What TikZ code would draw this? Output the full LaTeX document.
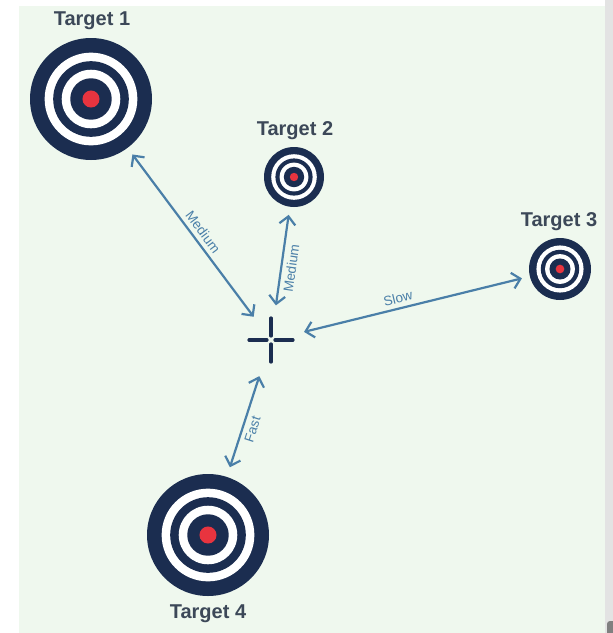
\documentclass[tikz,border=0pt]{standalone}
\usepackage{fontspec}
\setmainfont{Liberation Sans}
\usetikzlibrary{arrows.meta}
\definecolor{navy}{HTML}{1B2D50}
\definecolor{bullred}{HTML}{E8343F}
\definecolor{panel}{HTML}{EFF8EE}
\definecolor{linkblue}{HTML}{4A7FA8}
\definecolor{namegray}{HTML}{3C4858}
\tikzset{
  target/.style={circle, fill=navy, inner sep=0pt, minimum size=#1,
    path picture={
      \foreach \f/\c in {0.76/white,0.62/navy,0.48/white,0.34/navy,0.14/bullred}
        \fill[\c] (path picture bounding box.center) circle[radius=\f*#1/2];
    }},
  tname/.style={text=namegray, font=\fontsize{20}{23}\selectfont\bfseries},
  link/.style={draw=linkblue, line width=2.2pt,
    {Straight Barb[length=8pt,width=16pt]}-{Straight Barb[length=8pt,width=16pt]}},
  speed/.style={text=linkblue, font=\fontsize{13.5}{15}\selectfont, sloped, inner sep=4pt},
  hair/.style={draw=navy, line width=3.2pt, line cap=round},
}
\begin{document}
\begin{tikzpicture}[x=1pt, y=-1pt]
  \useasboundingbox (0,0) rectangle (613,633);
  \fill[white] (0,0) rectangle (613,633);
  \fill[panel] (19,6) rectangle (605,633);
  \fill[black!11] (605,0) rectangle (613,633);
  \fill[black!50, rounded corners=3pt] (607,621) -- (616,621) -- (616,636) -- (607,636) -- cycle;

  % targets
  \node[target=122pt] (t1) at (91,99) {};
  \node[target=60pt] (t2) at (294,177) {};
  \node[target=62pt] (t3) at (560,269) {};
  \node[target=122pt] (t4) at (208,535) {};

  \node[tname] (t1name) at (92,21) {Target 1};
  \node[tname] (t2name) at (295,131) {Target 2};
  \node[tname] (t3name) at (559,222) {Target 3};
  \node[tname] (t4name) at (208,614) {Target 4};

  % crosshair
  \coordinate (aim) at (271,340);
  \draw[hair] ([xshift=-22pt]aim) -- ([xshift=-4pt]aim);
  \draw[hair] ([xshift=22pt]aim) -- ([xshift=4pt]aim);
  \draw[hair] ([yshift=22pt]aim) -- ([yshift=4pt]aim);
  \draw[hair] ([yshift=-22pt]aim) -- ([yshift=-4pt]aim);

  % links
  \draw[link, shorten <=8pt, shorten >=29pt] (t1) -- (aim) node[speed, above, pos=0.47] {Medium};
  \draw[link, shorten <=8pt, shorten >=35pt] (t2) -- (aim) node[speed, below, pos=0.45] {Medium};
  \draw[link, shorten <=8pt, shorten >=34pt] (t3) -- (aim) node[speed, above, pos=0.5] {Slow};
  \draw[link, shorten <=10pt, shorten >=38pt] (t4) -- (aim) node[speed, below, pos=0.37] {Fast};
\end{tikzpicture}
\end{document}
